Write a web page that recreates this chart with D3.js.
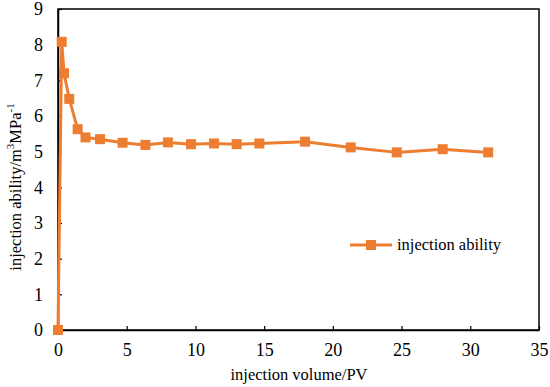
<!DOCTYPE html>
<meta charset="utf-8">
<style>
body { margin: 0; background: #fff; }
text { font-family: "Liberation Serif", "Times New Roman", serif; fill: #000; }
</style>
<svg width="550" height="387"></svg>
<script src="https://d3js.org/d3.v7.min.js"></script>
<script>

// values
var pv = [0, 0.27, 0.44, 0.82, 1.43, 2.0, 3.06, 4.7, 6.36, 8.0, 9.68, 11.35, 13.0, 14.65, 17.98, 21.3, 24.65, 27.99, 31.3];
var ability = [0, 8.08, 7.2, 6.48, 5.63, 5.40, 5.35, 5.25, 5.19, 5.26, 5.21, 5.23, 5.21, 5.23, 5.28, 5.12, 4.98, 5.07, 4.98];
var xTicks = [0, 5, 10, 15, 20, 25, 30, 35];
var yTicks = [0, 1, 2, 3, 4, 5, 6, 7, 8, 9];
var seriesName = "injection ability";

var svg = d3.select("svg"),
    plotLeft = 58, plotRight = 539, plotTop = 9, plotBottom = 330,
    orange = "#ED7D31",
    serif = "'Liberation Serif', 'Times New Roman', serif";

var x = d3.scaleLinear().domain([0, 35]).range([plotLeft, plotRight]);
var y = d3.scaleLinear().domain([0, 9]).range([plotBottom, plotTop]);

// frame
svg.append("rect")
    .attr("x", plotLeft).attr("y", plotTop)
    .attr("width", plotRight - plotLeft).attr("height", plotBottom - plotTop)
    .attr("fill", "none").attr("stroke", "#000").attr("stroke-width", 1.5);

var xAxis = svg.append("g")
    .attr("transform", "translate(0," + plotBottom + ")")
    .call(d3.axisBottom(x).tickValues(xTicks).tickSizeInner(-4).tickSizeOuter(0).tickPadding(13));

var yAxis = svg.append("g")
    .attr("transform", "translate(" + plotLeft + ",0)")
    .call(d3.axisLeft(y).tickValues(yTicks).tickSizeInner(-4).tickSizeOuter(0).tickPadding(15));

[xAxis, yAxis].forEach(function(a) {
  a.attr("font-family", null).attr("font-size", null);
  a.selectAll("text").style("font-family", serif).style("font-size", "18px");
  a.select(".domain").attr("stroke", "#000").attr("stroke-width", 1.5);
  a.selectAll(".tick line").attr("stroke", "#000").attr("stroke-width", 1.2);
});

var line = d3.line()
    .x(function(d, i) { return x(pv[i]); })
    .y(function(d) { return y(d); });

svg.append("path")
    .datum(ability)
    .attr("d", line)
    .attr("fill", "none")
    .attr("stroke", orange)
    .attr("stroke-width", 3)
    .attr("stroke-linejoin", "round");

svg.selectAll(".marker")
  .data(ability)
  .enter().append("rect")
    .attr("class", "marker")
    .attr("x", function(d, i) { return x(pv[i]) - 5; })
    .attr("y", function(d) { return y(d) - 5; })
    .attr("width", 10).attr("height", 10)
    .attr("fill", orange);

// legend
var lg = svg.append("g").attr("transform", "translate(350,245)");
lg.append("line").attr("x1", 0).attr("x2", 42).attr("stroke", orange).attr("stroke-width", 3);
lg.append("rect").attr("x", 16).attr("y", -5).attr("width", 10).attr("height", 10).attr("fill", orange);
lg.append("text").attr("x", 47).attr("dy", "0.33em").style("font-size", "16.5px").text(seriesName);

// axis titles
svg.append("text")
    .attr("x", 299).attr("y", 380)
    .attr("text-anchor", "middle").style("font-size", "16.5px")
    .text("injection volume/PV");

var yl = svg.append("text")
    .attr("transform", "translate(21,187) rotate(-90)")
    .attr("text-anchor", "middle").style("font-size", "16.5px");
yl.append("tspan").text("injection ability/m");
yl.append("tspan").attr("dy", -7).style("font-size", "11px").text("3");
yl.append("tspan").attr("dy", 7).text("MPa");
yl.append("tspan").attr("dy", -7).style("font-size", "11px").text("-1");

</script>
